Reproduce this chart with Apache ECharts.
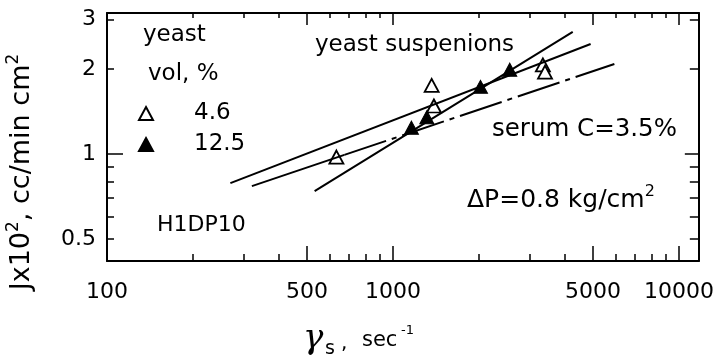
<!DOCTYPE html>
<html>
<head>
<meta charset="utf-8">
<script src="https://cdn.jsdelivr.net/npm/echarts@6/dist/echarts.min.js"></script>
<style>
  html, body { margin: 0; padding: 0; background: #fff; }
  #chart { width: 717px; height: 358px; }
</style>
</head>
<body>
<div id="chart"></div>
<script>
// yeast vol 4.6 % (open triangles)
const open46X = [634, 1365, 1390, 3342, 3400];
const open46Y = [0.976, 1.75, 1.48, 2.07, 1.95];
// yeast vol 12.5 % (filled triangles)
const fill125X = [1160, 1313, 2023, 2560];
const fill125Y = [1.24, 1.35, 1.73, 1.99];

// straight fits (end points)
const fitAX = [270, 4909];
const fitAY = [0.789, 2.455];
const fitBX = [321, 676];
const fitBY = [0.770, 0.993];
const fitBDashX = [676, 5943];
const fitBDashY = [0.993, 2.085];
const fitCX = [532, 4250];
const fitCY = [0.739, 2.708];

// axes
const xLabels = [100, 500, 1000, 5000, 10000];
const xMajor = [500, 1000, 5000, 10000];
const xMinor = [200, 300, 400, 600, 700, 800, 900, 2000, 3000, 4000, 6000, 7000, 8000, 9000];
const yLabels = [0.5, 1, 2, 3];
const yMajor = [1];
const yMinor = [0.5, 0.6, 0.7, 0.8, 0.9, 2, 3];

const X_MIN = 100, X_MAX = 11730;
const Y_MIN = 0.418, Y_MAX = 3.16;
const FONT = 'DejaVu Sans';

const zip = (xs, ys) => xs.map((x, i) => [x, ys[i]]);

function axis(kind, pos, ticks, len, labels, line) {
  return {
    type: 'log',
    logBase: 10,
    position: pos,
    min: kind === 'x' ? X_MIN : Y_MIN,
    max: kind === 'x' ? X_MAX : Y_MAX,
    splitLine: {show: false},
    axisLine: {show: line, lineStyle: {color: '#000', width: 2}},
    axisTick: {
      show: true,
      inside: true,
      length: len,
      customValues: ticks,
      lineStyle: {color: '#000', width: 1.5}
    },
    axisLabel: labels ? {
      show: true,
      customValues: labels,
      color: '#000',
      fontFamily: FONT,
      fontSize: 22,
      margin: kind === 'x' ? 20 : 11,
      formatter: v => String(+(+v).toPrecision(3))
    } : {show: false}
  };
}

function label(x, y, text, size) {
  return {
    type: 'text', x: x, y: y,
    style: {text: text, font: size + 'px ' + FONT, fill: '#000',
      verticalAlign: 'middle', textVerticalAlign: 'middle'}
  };
}

const chart = echarts.init(document.getElementById('chart'), null, {renderer: 'canvas'});

const lineStyle = {color: '#000', width: 2};

chart.setOption({
  animation: false,
  backgroundColor: '#fff',
  grid: {left: 107, right: 15, top: 13, bottom: 97},
  xAxis: [
    axis('x', 'bottom', xMajor, 15, xLabels, true),
    axis('x', 'bottom', xMinor, 7, null, false),
    axis('x', 'top', xMajor, 12, null, true),
    axis('x', 'top', xMinor, 5, null, false)
  ],
  yAxis: [
    axis('y', 'left', yMajor, 16, yLabels, true),
    axis('y', 'left', yMinor, 7, null, false),
    axis('y', 'right', yMajor, 14, null, true),
    axis('y', 'right', yMinor, 9, null, false)
  ],
  legend: {
    data: ['4.6', '12.5'],
    orient: 'vertical',
    left: 133,
    top: 97,
    itemWidth: 14,
    itemHeight: 13,
    itemGap: 8,
    textStyle: {fontFamily: FONT, fontSize: 23, color: '#000', padding: [0, 0, 0, 36]}
  },
  series: [
    {type: 'line', data: zip(fitAX, fitAY), symbol: 'none', lineStyle: lineStyle, silent: true},
    {type: 'line', data: zip(fitBX, fitBY), symbol: 'none', lineStyle: lineStyle, silent: true},
    {type: 'line', data: zip(fitBDashX, fitBDashY), symbol: 'none',
      lineStyle: {color: '#000', width: 2, type: [44, 6, 5, 6]}, silent: true},
    {type: 'line', data: zip(fitCX, fitCY), symbol: 'none', lineStyle: lineStyle, silent: true},
    {
      name: '4.6', type: 'scatter', data: zip(open46X, open46Y),
      symbol: 'triangle', symbolSize: [14, 13],
      itemStyle: {color: '#fff', borderColor: '#000', borderWidth: 1.8, opacity: 1}
    },
    {
      name: '12.5', type: 'scatter', data: zip(fill125X, fill125Y),
      symbol: 'triangle', symbolSize: [14, 13],
      itemStyle: {color: '#000', borderColor: '#000', borderWidth: 1, opacity: 1}
    }
  ],
  graphic: [
    label(143, 35, 'yeast', 23),
    label(148, 74, 'vol, %', 23),
    label(315, 45, 'yeast suspenions', 23),
    label(492, 130, 'serum C=3.5%', 24.5),
    label(157, 225, 'H1DP10', 22),
    {
      type: 'text', x: 467, y: 200,
      style: {
        text: '{m|ΔP=0.8 kg/cm}{s|2}',
        verticalAlign: 'middle', textVerticalAlign: 'middle',
        rich: {
          m: {fontFamily: FONT, fontSize: 25, lineHeight: 32, fill: '#000', color: '#000'},
          s: {fontFamily: FONT, fontSize: 16, lineHeight: 16, fill: '#000', color: '#000', verticalAlign: 'top'}
        }
      }
    },
    {
      type: 'text', x: 22, y: 172, rotation: Math.PI / 2,
      style: {
        text: '{m|Jx10}{s|2}{m|, cc/min cm}{s|2}',
        align: 'center', textAlign: 'center',
        verticalAlign: 'middle', textVerticalAlign: 'middle',
        rich: {
          m: {fontFamily: FONT, fontSize: 27, lineHeight: 34, fill: '#000', color: '#000'},
          s: {fontFamily: FONT, fontSize: 17, lineHeight: 17, fill: '#000', color: '#000', verticalAlign: 'top'}
        }
      }
    },
    {type: 'text', x: 303, y: 339,
      style: {text: 'γ', font: 'italic 34px "DejaVu Serif"', fill: '#000',
        verticalAlign: 'middle', textVerticalAlign: 'middle'}},
    label(325, 349, 's', 19),
    label(341, 344, ',', 20),
    label(362, 341, 'sec', 21),
    label(401, 331, '-1', 13)
  ]
});
</script>
</body>
</html>
